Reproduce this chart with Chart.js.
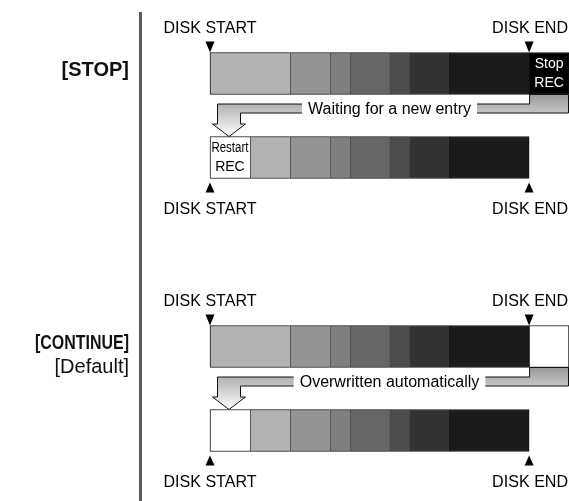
<!DOCTYPE html>
<html>
<head>
<meta charset="utf-8">
<script src="https://cdn.jsdelivr.net/npm/chart.js@4/dist/chart.umd.min.js"></script>
<style>
  html, body { margin: 0; padding: 0; background: #fff; }
  canvas { display: block; }
</style>
</head>
<body>
<canvas id="chart" width="569" height="501"></canvas>
<script>
// y axis slots, the four disk bars sit on some of them
const slotCount = 18
const barSlots = [0, 4, 13, 17]
const barNames = ["STOP full", "STOP restart", "CONTINUE full", "CONTINUE overwrite"]

// disk blocks, in 1/16 of the disk
const headUnits = [null, 2, null, 2]
const blockUnits = [
  [4, 2, 4, 2],
  [2, 2, 2, 2],
  [1, 1, 1, 1],
  [2, 2, 2, 2],
  [1, 1, 1, 1],
  [2, 2, 2, 2],
  [4, 4, 4, 4],
]
const tailUnits = [2, null, 2, null]
const blockColors = ["#b3b3b3", "#949494", "#7f7f7f", "#666666", "#4d4d4d", "#333333", "#1a1a1a"]
const tailColors = ["#000000", null, "#ffffff", null]
const headText = [null, ["Restart", "REC"], null, null]
const tailText = [["Stop", "REC"], null, null, null]

const diskStart = 0
const diskEnd = 16
const scaleMax = 18
const markerAbove = [true, false, true, false]
const startLabel = "DISK START"
const endLabel = "DISK END"

const flowFrom = [0, 2]
const flowTo = [1, 3]
const flowText = ["Waiting for a new entry", "Overwritten automatically"]
const flowTextAt = 9

const modeBars = [0, 2]
const modeTitles = ["[STOP]", "[CONTINUE]"]
const modeNotes = [null, "[Default]"]

const FONT = '"Liberation Sans", Arial, Helvetica, sans-serif'

function spread(values) {
  const out = new Array(slotCount).fill(null)
  barSlots.forEach((slot, i) => { out[slot] = values[i] })
  return out
}

const datasets = [
  { label: "head", data: spread(headUnits), backgroundColor: "#ffffff" },
  ...blockUnits.map((units, k) => ({ label: "block " + (k + 1), data: spread(units), backgroundColor: blockColors[k] })),
  { label: "tail", data: spread(tailUnits), backgroundColor: spread(tailColors) },
]

// right border only on the last piece of each bar, so dividers stay thin
function lastPiece(slot) {
  let last = -1
  datasets.forEach((ds, i) => { if (ds.data[slot] != null) last = i })
  return last
}

datasets.forEach((ds) => {
  ds.stack = "disk"
  ds.clip = false
  ds.barThickness = 42
  ds.borderColor = "#111111"
  ds.borderSkipped = false
  ds.borderWidth = (ctx) => ({ top: 1, bottom: 1, left: 1, right: ctx.datasetIndex === lastPiece(ctx.dataIndex) ? 1 : 0 })
})

function triangle(ctx, x, tipY, baseY) {
  ctx.beginPath()
  ctx.moveTo(x, tipY)
  ctx.lineTo(x - 4.5, baseY)
  ctx.lineTo(x + 4.5, baseY)
  ctx.closePath()
  ctx.fill()
}

function textLines(ctx, lines, x, cy, color, maxWidth) {
  ctx.fillStyle = color
  ctx.font = "14px " + FONT
  ctx.textAlign = "center"
  ctx.textBaseline = "middle"
  ctx.fillText(lines[0], x, cy - 9, maxWidth)
  ctx.fillText(lines[1], x, cy + 10, maxWidth)
}

const diagramPlugin = {
  id: "diagram",
  afterDatasetsDraw(chart) {
    const ctx = chart.ctx
    const xs = chart.scales.x
    const area = chart.chartArea
    const headMeta = chart.getDatasetMeta(0)
    const blockMeta = chart.getDatasetMeta(1)
    const tailMeta = chart.getDatasetMeta(datasets.length - 1)
    const x0 = xs.getPixelForValue(diskStart)
    const x1 = xs.getPixelForValue(diskEnd)

    const box = (i) => {
      const el = blockMeta.data[barSlots[i]]
      return { cy: el.y, top: el.y - el.height / 2, bottom: el.y + el.height / 2 }
    }

    ctx.save()

    // flow arrows between bars
    flowFrom.forEach((from, k) => {
      const tail = tailMeta.data[barSlots[from]]
      const head = headMeta.data[barSlots[flowTo[k]]]
      const B = box(from).bottom
      const T = box(flowTo[k]).top
      const tl = Math.min(tail.base, tail.x) + 0.5
      const tr = Math.max(tail.base, tail.x) - 0.5
      const hl = Math.min(head.base, head.x)
      const bandTop = B + 9.5
      const bandBot = B + 18.5
      const stemL = hl + 7.5
      const stemR = hl + 30.5
      const tipX = hl + 19
      const headBase = T - 12.5

      const grad = ctx.createLinearGradient(0, B, 0, T)
      grad.addColorStop(0, "#999999")
      grad.addColorStop(1, "#ffffff")
      ctx.beginPath()
      ctx.moveTo(tl, B)
      ctx.lineTo(tr, B)
      ctx.lineTo(tr, bandBot)
      ctx.lineTo(stemR, bandBot)
      ctx.lineTo(stemR, headBase)
      ctx.lineTo(hl + 35.5, headBase)
      ctx.lineTo(tipX, T)
      ctx.lineTo(hl + 2.5, headBase)
      ctx.lineTo(stemL, headBase)
      ctx.lineTo(stemL, bandTop)
      ctx.lineTo(tl, bandTop)
      ctx.closePath()
      ctx.fillStyle = grad
      ctx.fill()
      ctx.strokeStyle = "#111111"
      ctx.lineWidth = 1
      ctx.stroke()

      ctx.font = "16px " + FONT
      const cx = xs.getPixelForValue(flowTextAt)
      const w = ctx.measureText(flowText[k]).width
      ctx.fillStyle = "#ffffff"
      ctx.fillRect(cx - w / 2 - 6, bandTop - 3, w + 12, bandBot - bandTop + 6)
      ctx.fillStyle = "#000000"
      ctx.textAlign = "center"
      ctx.textBaseline = "middle"
      ctx.fillText(flowText[k], cx, (bandTop + bandBot) / 2 + 1)
    })

    // disk start / end markers and labels
    barSlots.forEach((slot, i) => {
      const b = box(i)
      ctx.fillStyle = "#000000"
      ctx.font = "17px " + FONT
      ctx.textAlign = "center"
      ctx.textBaseline = "middle"
      if (markerAbove[i]) {
        triangle(ctx, x0, b.top, b.top - 11)
        triangle(ctx, x1, b.top, b.top - 11)
        ctx.fillText(startLabel, x0, b.top - 24, 93)
        ctx.fillText(endLabel, x1 + 1, b.top - 24, 76)
      } else {
        triangle(ctx, x0, b.bottom + 4, b.bottom + 14)
        triangle(ctx, x1, b.bottom + 4, b.bottom + 14)
        ctx.fillText(startLabel, x0, b.bottom + 31, 93)
        ctx.fillText(endLabel, x1 + 1, b.bottom + 31, 76)
      }

      if (headText[i]) {
        const el = headMeta.data[slot]
        textLines(ctx, headText[i], (el.x + el.base) / 2, b.cy, "#000000", 37)
      }
      if (tailText[i]) {
        const el = tailMeta.data[slot]
        textLines(ctx, tailText[i], (el.x + el.base) / 2, b.cy, "#ffffff", 34)
      }
    })

    // mode titles and divider
    const labelRight = area.left - 81
    modeBars.forEach((bar, k) => {
      const cy = box(bar).cy
      ctx.fillStyle = "#111111"
      ctx.textAlign = "right"
      ctx.textBaseline = "middle"
      ctx.font = "bold 20px " + FONT
      ctx.fillText(modeTitles[k], labelRight, cy - 3, 94)
      if (modeNotes[k]) {
        ctx.font = "20px " + FONT
        ctx.fillText(modeNotes[k], labelRight, cy + 21)
      }
    })
    ctx.fillStyle = "#5a5a5a"
    ctx.fillRect(area.left - 71, 12, 3, chart.height - 12)

    ctx.restore()
  },
}

new Chart(document.getElementById("chart"), {
  type: "bar",
  data: { labels: spread(barNames).map((n) => n || ""), datasets },
  options: {
    indexAxis: "y",
    responsive: false,
    devicePixelRatio: 1,
    animation: false,
    layout: { padding: { left: 210, right: 0, top: 63, bottom: 60 } },
    scales: {
      x: { type: "linear", min: 0, max: scaleMax, stacked: true, display: false },
      y: { stacked: true, display: false },
    },
    plugins: {
      legend: { display: false },
      tooltip: { enabled: false },
    },
  },
  plugins: [diagramPlugin],
})
</script>
</body>
</html>
